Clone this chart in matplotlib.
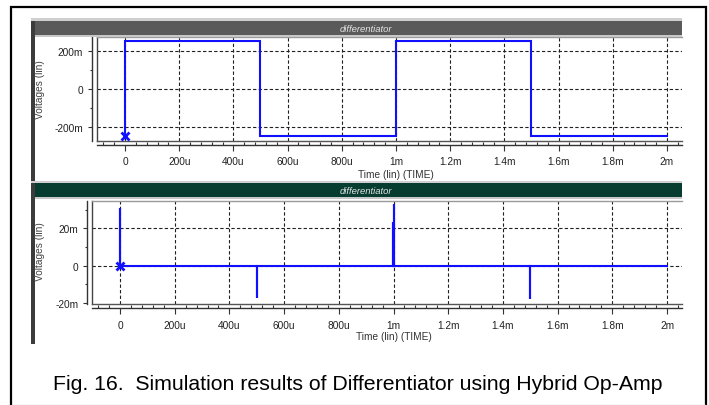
import numpy as np
import matplotlib
matplotlib.use("Agg")
from matplotlib import pyplot as plt
from matplotlib.patches import Rectangle
from matplotlib.lines import Line2D
from matplotlib.ticker import FixedLocator, MultipleLocator

# data
sq_t = [0, 0, 0.5e-3, 0.5e-3, 1.0e-3, 1.0e-3, 1.5e-3, 1.5e-3, 2.0e-3]
sq_v = [-0.25, 0.25, 0.25, -0.25, -0.25, 0.25, 0.25, -0.25, -0.25]

out_t = [0, 0, 0, 0.5e-3, 0.5e-3, 0.5e-3, 0.999e-3, 0.999e-3, 0.999e-3,
         1.0e-3, 1.0e-3, 1.0e-3, 1.5e-3, 1.5e-3, 1.5e-3, 2.0e-3]
out_v = [0, 0.031, 0, 0, -0.0174, 0, 0, 0.0234, 0,
         0, 0.033, 0, 0, -0.0178, 0, 0]

time_ticks = [0, 0.2e-3, 0.4e-3, 0.6e-3, 0.8e-3, 1.0e-3, 1.2e-3, 1.4e-3, 1.6e-3, 1.8e-3, 2.0e-3]
time_labels = ["0", "200u", "400u", "600u", "800u", "1m", "1.2m", "1.4m", "1.6m", "1.8m", "2m"]
top_yticks = [-0.2, 0, 0.2]
top_ylabels = ["-200m", "0", "200m"]
bot_yticks = [-0.02, 0, 0.02]
bot_ylabels = ["-20m", "0", "20m"]

panel_title = "differentiator"
caption = "Fig. 16.  Simulation results of Differentiator using Hybrid Op-Amp"

W, H = 709, 406
plt.rcParams["font.family"] = ["Liberation Sans", "DejaVu Sans"]

fig = plt.figure(figsize=(W / 100, H / 100), dpi=100)


def fx(x):
    return x / W


def fy(y):
    return 1 - y / H


def box(l, t, r, b, color, **kw):
    fig.add_artist(Rectangle((fx(l), fy(b)), fx(r) - fx(l), fy(t) - fy(b),
                             transform=fig.transFigure, facecolor=color,
                             edgecolor="none", **kw))


def hline(x0, x1, y, color, lw=1.0):
    fig.add_artist(Line2D([fx(x0), fx(x1)], [fy(y), fy(y)],
                          transform=fig.transFigure, color=color, lw=lw))


# outer frame of the figure
fig.add_artist(Rectangle((fx(11), fy(412)), fx(706) - fx(11), fy(8) - fy(412),
                         transform=fig.transFigure, facecolor="none",
                         edgecolor="black", lw=1.6))
hline(12, 705, 405.5, "#d6d6d6", 1.0)

# title bars of the screenshot
box(31, 19, 682, 22, "#cfcfcf")
box(31, 22, 682, 35.5, "#5a5a5a")
box(31, 35.5, 682, 37.5, "#c8c8c8")
box(31, 182, 682, 184, "#cfcfcf")
box(31, 184, 682, 197.5, "#073d30")
box(31, 197.5, 682, 199.5, "#c8c8c8")
box(31, 22, 35, 182, "#3c3c3c")
box(31, 184, 35, 345, "#3c3c3c")
for yc in (29, 191):
    fig.text(fx(366), fy(yc), panel_title, color="#e4e4e4", fontsize=6.8,
             style="italic", ha="center", va="center")


def panel(l, t, r, b, xlim, ylim, yticks, ylabels, ymin_step, t_data, v_data, marker_v):
    ax = fig.add_axes([fx(l), fy(b), fx(r) - fx(l), fy(t) - fy(b)])
    ax.plot(t_data, v_data, color="#1010ff", lw=1.5, solid_joinstyle="miter", zorder=3)
    ax.plot([0], [marker_v], marker="x", color="#1010ff", ms=6, mew=2, zorder=4)
    ax.set_xlim(xlim)
    ax.set_ylim(ylim)
    ax.xaxis.set_major_locator(FixedLocator(time_ticks))
    ax.set_xticklabels(time_labels)
    ax.xaxis.set_minor_locator(MultipleLocator(0.04e-3))
    ax.yaxis.set_major_locator(FixedLocator(yticks))
    ax.set_yticklabels(ylabels)
    ax.yaxis.set_minor_locator(MultipleLocator(ymin_step))
    ax.grid(True, which="major", color="#202020", lw=0.8, linestyle=(0, (3, 2)))
    for s in ("top", "right"):
        ax.spines[s].set_visible(False)
    ax.spines["left"].set_position(("outward", 3.4))
    ax.spines["bottom"].set_position(("outward", 3.0))
    for s in ("left", "bottom"):
        ax.spines[s].set_color("#333333")
        ax.spines[s].set_linewidth(1.0)
    ax.tick_params(axis="x", which="major", direction="out", length=4.3, width=0.8,
                   color="#333333", labelsize=7.3, labelcolor="#222222", pad=4)
    ax.tick_params(axis="x", which="minor", direction="in", length=2.5, width=0.8,
                   color="#333333")
    ax.tick_params(axis="y", which="major", direction="out", length=3, width=0.8,
                   color="#333333", labelsize=7.3, labelcolor="#222222", pad=3.5)
    ax.tick_params(axis="y", which="minor", direction="out", length=1.5, width=0.8,
                   color="#333333")
    # inner plot frame
    ax.plot([0, 0], [0, 1], transform=ax.transAxes, color="#444444", lw=1.0, clip_on=False)
    ax.plot([0, 1], [0, 0], transform=ax.transAxes, color="#555555", lw=1.0, clip_on=False)
    ax.plot([0, 1], [1, 1], transform=ax.transAxes, color="#9a9a9a", lw=1.0, clip_on=False)
    return ax


ax1 = panel(96.7, 38, 682, 141.7, (-0.1044e-3, 2.0554e-3), (-0.2751, 0.2735),
            top_yticks, top_ylabels, 0.1, sq_t, sq_v, -0.25)
ax2 = panel(92, 201.7, 682, 305, (-0.1024e-3, 2.0548e-3), (-0.0205, 0.03476),
            bot_yticks, bot_ylabels, 0.01, out_t, out_v, 0)
# the -20m grid line sits under the frame in the original
ax2.yaxis.get_gridlines()[0].set_visible(False)

for yc in (90, 252):
    fig.text(fx(40), fy(yc), "Voltages (lin)", rotation=90, fontsize=7.3,
             color="#444444", ha="center", va="center")
fig.text(fx(396), fy(175), "Time (lin) (TIME)", fontsize=7.3, color="#333333",
         ha="center", va="center")
fig.text(fx(394), fy(337), "Time (lin) (TIME)", fontsize=7.3, color="#333333",
         ha="center", va="center")

fig.text(fx(53), fy(390), caption, fontsize=15.3,
         color="black", ha="left", va="baseline")

fig.savefig("out.png", dpi=100)
